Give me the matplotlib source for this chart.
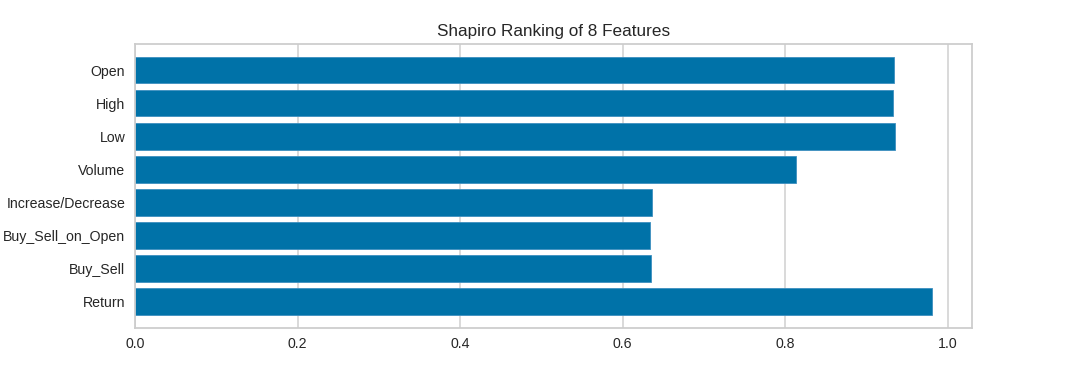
import matplotlib
matplotlib.use("Agg")
import matplotlib.pyplot as plt
import numpy as np

features = ["Open", "High", "Low", "Volume", "Increase/Decrease",
            "Buy_Sell_on_Open", "Buy_Sell", "Return"]
scores = [0.934, 0.933, 0.935, 0.814, 0.636, 0.634, 0.635, 0.981]

plt.rcParams['font.family'] = ['Liberation Sans', 'DejaVu Sans']

fig = plt.figure(figsize=(10.8, 3.68), dpi=100)
ax = fig.add_subplot(111)
ax.set_axisbelow(True)
pos = np.arange(len(features))
ax.barh(pos, scores, height=0.8, color="#0072A8", edgecolor="#3d8fbf", linewidth=0.6)
ax.set_yticks(pos)
ax.set_yticklabels(features)
ax.invert_yaxis()
ax.set_title("Shapiro Ranking of 8 Features", fontsize=12.3, color="#262626")
ax.grid(True, axis='x', color="#d0d0d0", linewidth=1.1)
ax.grid(False, axis='y')
for s in ax.spines.values():
    s.set_color("#cccccc")
    s.set_linewidth(1.25)
ax.tick_params(axis='both', length=0, labelsize=10.15, colors="#262626", pad=7)
ax.set_xticks([0.0, 0.2, 0.4, 0.6, 0.8, 1.0])
ax.set_xticklabels(["0.0", "0.2", "0.4", "0.6", "0.8", "1.0"])
fig.savefig("out.png", dpi=100)
